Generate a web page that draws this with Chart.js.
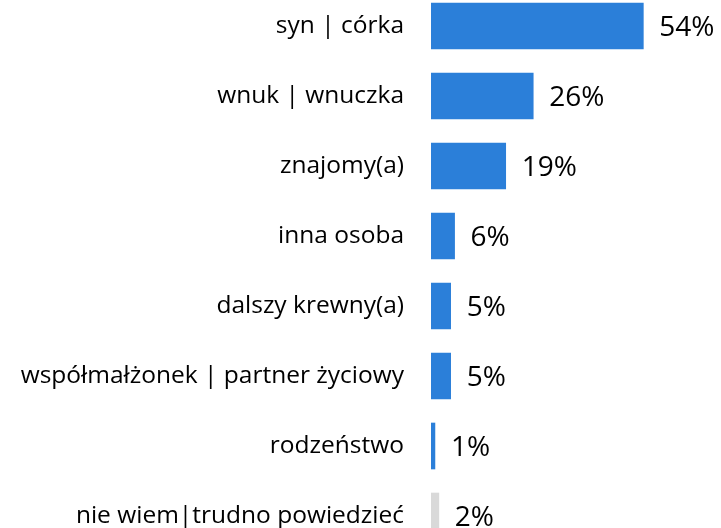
<!DOCTYPE html>
<html>
<head>
<meta charset="utf-8">
<script src="https://cdn.jsdelivr.net/npm/chart.js@4"></script>
<style>
  html, body { margin: 0; padding: 0; background: #ffffff; overflow: hidden; width: 721px; height: 528px; }
  #c { position: absolute; left: 0; top: -9px; }
</style>
</head>
<body>
<canvas id="c" width="721" height="560"></canvas>
<script>
const categories = [
  "syn | córka",
  "wnuk | wnuczka",
  "znajomy(a)",
  "inna osoba",
  "dalszy krewny(a)",
  "współmałżonek | partner życiowy",
  "rodzeństwo",
  "nie wiem|trudno powiedzieć"
];
const values = [54, 26, 19, 6, 5, 5, 1, 2];
const valueLabels = ["54%", "26%", "19%", "6%", "5%", "5%", "1%", "2%"];
const barColors = ["#2b7fd9", "#2b7fd9", "#2b7fd9", "#2b7fd9", "#2b7fd9", "#2b7fd9", "#2b7fd9", "#d9d9d9"];

const FONT = "'Open Sans', sans-serif";

const valueLabelPlugin = {
  id: 'valueLabels',
  afterDatasetsDraw(chart) {
    const ctx = chart.ctx;
    const meta = chart.getDatasetMeta(0);
    ctx.save();
    ctx.font = "28px " + FONT;
    ctx.fillStyle = "#000000";
    ctx.textAlign = "left";
    ctx.textBaseline = "middle";
    meta.data.forEach((bar, i) => {
      ctx.fillText(valueLabels[i], bar.x + 16, bar.y + 2);
    });
    ctx.restore();
  }
};

new Chart(document.getElementById('c'), {
  type: 'bar',
  data: {
    labels: categories,
    datasets: [{
      data: values,
      backgroundColor: barColors,
      borderWidth: 0,
      barThickness: 46
    }]
  },
  options: {
    indexAxis: 'y',
    responsive: false,
    maintainAspectRatio: false,
    animation: false,
    layout: { padding: { left: 0, right: 1, top: 0, bottom: 0 } },
    plugins: {
      legend: { display: false },
      tooltip: { enabled: false }
    },
    scales: {
      x: {
        display: false,
        min: 0,
        max: 73.5
      },
      y: {
        afterFit(axis) {
          axis.width = 431;
          axis.paddingTop = 0;
          axis.paddingBottom = 0;
        },
        grid: { display: false, drawTicks: false },
        border: { display: false },
        ticks: {
          padding: 27,
          color: "#000000",
          font: { family: FONT, size: 24.5 }
        }
      }
    }
  },
  plugins: [valueLabelPlugin]
});
</script>
</body>
</html>
